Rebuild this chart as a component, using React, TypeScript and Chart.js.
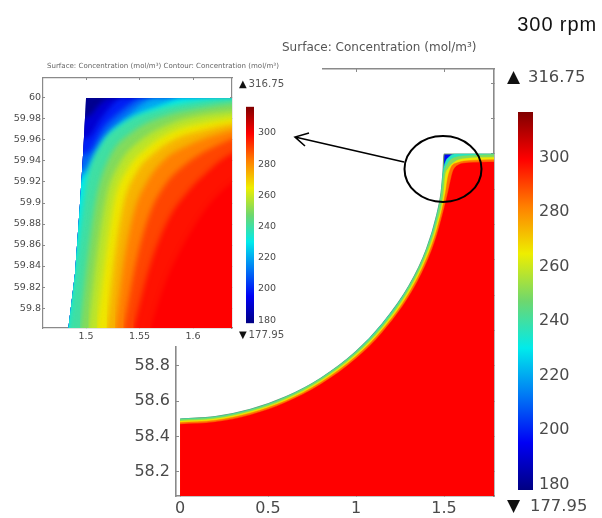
import React, { useEffect, useRef } from "react";
import { Chart, registerables } from "chart.js";

Chart.register(...registerables);

type Pair = number[];

// Colour scale shared by both colour bars and all filled contours
const scaleMin = 177.95;
const scaleMax = 316.75;
const jetValues = [177.95, 195.3, 212.6, 230, 247.3, 264.7, 282, 299.4, 316.75];
const jetColors = [
  [0, 0, 130], [0, 0, 245], [0, 120, 245], [0, 235, 235], [110, 215, 110],
  [238, 238, 0], [255, 128, 0], [255, 0, 0], [128, 0, 0],
];
const barTicks = [180, 200, 220, 240, 260, 280, 300];

// Main plot ticks
const mainXTicks = [0, 0.5, 1, 1.5];
const mainYTicks = [58.2, 58.4, 58.6, 58.8, 59, 59.2, 59.4, 59.6, 59.8, 60, 60.2, 60.4];
const mainXLabels = ["0", "0.5", "1", "1.5"];

// Main plot contours: surface outline and the bands just inside it
const mainLevelValues = [196, 236, 250, 266, 284, 299.4];
const mainOutline: Pair[] = [[0, 58.5], [0.2, 58.513], [0.4, 58.554], [0.6, 58.625], [0.8, 58.731], [1, 58.882], [1.15, 59.04], [1.3, 59.252], [1.4, 59.461], [1.46, 59.66], [1.4835, 59.781], [1.4944, 59.9], [1.5, 60], [1.8, 60]];
const mainCyan: Pair[] = [[0, 58.5], [0.2, 58.513], [0.4, 58.554], [0.6, 58.625], [0.8, 58.731], [1, 58.882], [1.15, 59.04], [1.3, 59.252], [1.4, 59.461], [1.46, 59.66], [1.4835, 59.781], [1.4944, 59.9], [1.51, 59.96], [1.53, 59.985], [1.56, 60], [1.8, 60]];
const mainGreen: Pair[] = [[0, 58.497], [0.2, 58.51], [0.4, 58.551], [0.6, 58.622], [0.8, 58.728], [1, 58.878], [1.15, 59.032], [1.3, 59.246], [1.4, 59.453], [1.46, 59.643], [1.4855, 59.78], [1.4965, 59.88], [1.52, 59.945], [1.56, 59.98], [1.65, 59.992], [1.8, 59.997]];
const mainYellow: Pair[] = [[0, 58.488], [0.2, 58.501], [0.4, 58.542], [0.6, 58.612], [0.8, 58.717], [1, 58.866], [1.15, 59.018], [1.3, 59.228], [1.4, 59.429], [1.46, 59.607], [1.498, 59.78], [1.506, 59.87], [1.525, 59.92], [1.56, 59.955], [1.6, 59.972], [1.8, 59.982]];
const mainOrange: Pair[] = [[0, 58.48], [0.2, 58.493], [0.4, 58.534], [0.6, 58.603], [0.8, 58.708], [1, 58.855], [1.15, 59.006], [1.3, 59.212], [1.4, 59.408], [1.46, 59.577], [1.508, 59.78], [1.52, 59.86], [1.54, 59.925], [1.575, 59.95], [1.65, 59.963], [1.8, 59.968]];
const mainRed: Pair[] = [[0, 58.47], [0.2, 58.483], [0.4, 58.523], [0.6, 58.593], [0.8, 58.696], [1, 58.842], [1.15, 58.991], [1.3, 59.193], [1.4, 59.383], [1.46, 59.543], [1.522, 59.78], [1.534, 59.836], [1.55, 59.9], [1.58, 59.937], [1.64, 59.95], [1.8, 59.955]];

// Inset ticks
const insetXTicks = [1.5, 1.55, 1.6];
const insetYTicks = [59.8, 59.82, 59.84, 59.86, 59.88, 59.9, 59.92, 59.94, 59.96, 59.98, 60];

// Inset contours, lowest level first
const insetValues = [180, 190, 200, 210, 220, 230, 240, 250, 258, 266, 274, 282, 290, 297, 299.4];
const c180: Pair[] = [[1.4835, 59.781], [1.4897, 59.833], [1.4944, 59.9], [1.4975, 59.951], [1.5, 60], [1.67, 60]];
const c190: Pair[] = [[1.4735, 59.78], [1.4797, 59.833], [1.4844, 59.9], [1.4881, 59.96], [1.5037, 59.983], [1.5131, 59.994], [1.5224, 60], [1.67, 60]];
const c200: Pair[] = [[1.4735, 59.78], [1.4797, 59.833], [1.4844, 59.9], [1.4869, 59.941], [1.5031, 59.963], [1.5146, 59.981], [1.5349, 60], [1.67, 60]];
const c210: Pair[] = [[1.4735, 59.78], [1.4797, 59.833], [1.4844, 59.9], [1.4853, 59.919], [1.5022, 59.948], [1.5162, 59.971], [1.5349, 59.989], [1.5536, 60], [1.67, 60]];
const c220: Pair[] = [[1.4735, 59.78], [1.4797, 59.833], [1.4838, 59.894], [1.5012, 59.935], [1.5178, 59.963], [1.5396, 59.984], [1.566, 60], [1.67, 60]];
const c230: Pair[] = [[1.4735, 59.78], [1.4807, 59.84], [1.4875, 59.9], [1.5053, 59.933], [1.5209, 59.962], [1.5442, 59.981], [1.5723, 59.994], [1.591, 60], [1.67, 60]];
const c240: Pair[] = [[1.4837, 59.78], [1.4924, 59.856], [1.5002, 59.919], [1.5131, 59.954], [1.5349, 59.976], [1.566, 59.989], [1.6065, 59.997], [1.64, 60], [1.67, 60.002]];
const c250: Pair[] = [[1.4944, 59.78], [1.5022, 59.852], [1.51, 59.906], [1.5224, 59.944], [1.5442, 59.968], [1.5754, 59.983], [1.6065, 59.99], [1.64, 59.995], [1.67, 59.998]];
const c258: Pair[] = [[1.5022, 59.78], [1.5106, 59.852], [1.5193, 59.906], [1.5318, 59.938], [1.5505, 59.959], [1.5785, 59.975], [1.6065, 59.983], [1.64, 59.987], [1.67, 59.99]];
const c266: Pair[] = [[1.51, 59.78], [1.5187, 59.849], [1.5271, 59.903], [1.5396, 59.933], [1.5567, 59.952], [1.5816, 59.968], [1.6097, 59.976], [1.64, 59.981], [1.67, 59.984]];
const c274: Pair[] = [[1.5193, 59.78], [1.5271, 59.849], [1.5355, 59.9], [1.5474, 59.929], [1.5645, 59.948], [1.5863, 59.962], [1.6128, 59.97], [1.64, 59.976], [1.67, 59.98]];
const c282: Pair[] = [[1.5271, 59.78], [1.5364, 59.849], [1.5458, 59.894], [1.5583, 59.922], [1.5754, 59.943], [1.5941, 59.954], [1.6159, 59.963], [1.64, 59.97], [1.67, 59.975]];
const c290: Pair[] = [[1.5349, 59.78], [1.5474, 59.846], [1.5598, 59.89], [1.5754, 59.919], [1.591, 59.935], [1.6097, 59.948], [1.6252, 59.956], [1.64, 59.962], [1.67, 59.97]];
const c298: Pair[] = [[1.5442, 59.78], [1.5598, 59.84], [1.5769, 59.884], [1.5972, 59.913], [1.6128, 59.929], [1.6252, 59.94], [1.64, 59.949], [1.67, 59.96]];
const c306: Pair[] = [[1.5598, 59.78], [1.5754, 59.827], [1.5972, 59.871], [1.619, 59.903], [1.64, 59.922], [1.67, 59.94]];

const tickColor = "#4a4a4a";
const frameColor = "#8a8a8a";

function colorOf(v: number, alpha = 1): string {
  let i = 0;
  while (i < jetValues.length - 2 && v > jetValues[i + 1]) i++;
  const t = Math.min(1, Math.max(0, (v - jetValues[i]) / (jetValues[i + 1] - jetValues[i])));
  const a = jetColors[i];
  const b = jetColors[i + 1];
  const c = a.map((p, k) => Math.round(p + (b[k] - p) * t));
  return `rgba(${c[0]},${c[1]},${c[2]},${alpha})`;
}

function layers(curves: Pair[][], values: number[], fill: any, outlineColor?: string) {
  return curves
    .map((curve, i) => ({
      type: "scatter" as const,
      data: curve.map(([x, y]) => ({ x, y })),
      showLine: true,
      pointRadius: 0,
      borderWidth: i === 0 && outlineColor ? 1.2 : 0.4,
      borderColor: i === 0 && outlineColor ? outlineColor : colorOf(values[i]),
      backgroundColor: colorOf(values[i]),
      fill,
      cubicInterpolationMode: "monotone",
    }))
    .reverse();
}

function axis(
  min: number,
  max: number,
  ticks: number[],
  size: number,
  fontSize: number,
  showLabels: boolean,
  tickLen: number,
  pad: number,
  position: string,
  labels?: string[],
  borderWidth = 1.2,
) {
  return {
    type: "linear",
    position,
    min,
    max,
    afterBuildTicks: (s: any) => {
      s.ticks = ticks.map((value) => ({ value }));
    },
    afterFit: (s: any) => {
      if (s.isHorizontal()) s.height = size;
      else s.width = size;
    },
    grid: { drawOnChartArea: false, color: frameColor, tickLength: -tickLen, lineWidth: 1 },
    border: { display: true, color: frameColor, width: borderWidth },
    ticks: {
      display: showLabels,
      autoSkip: false,
      maxRotation: 0,
      color: tickColor,
      padding: pad,
      font: { family: "DejaVu Sans", size: fontSize },
      callback: (v: number) => {
        const i = ticks.indexOf(v);
        return labels && i >= 0 ? labels[i] : String(v);
      },
    },
  };
}

function text(ctx: CanvasRenderingContext2D, s: string, x: number, y: number, font: string, color: string, align: CanvasTextAlign = "left") {
  ctx.font = font;
  ctx.fillStyle = color;
  ctx.textAlign = align;
  ctx.textBaseline = "middle";
  ctx.fillText(s, x, y);
}

function colorBar(canvas: HTMLCanvasElement, top: number, bottom: number, left: number, right: number, axisWidth: number, fontSize: number, tickLen: number, pad: number) {
  return new Chart(canvas, {
    type: "bar",
    data: {
      labels: ["c"],
      datasets: [
        {
          data: [[scaleMin, scaleMax]],
          barPercentage: 1,
          categoryPercentage: 1,
          backgroundColor: (c: any) => {
            const y = c.chart.scales.y;
            const { ctx } = c.chart;
            const p0 = y ? y.getPixelForValue(scaleMin) : NaN;
            const p1 = y ? y.getPixelForValue(scaleMax) : NaN;
            if (!Number.isFinite(p0) || !Number.isFinite(p1)) return "#ff0000";
            const g = ctx.createLinearGradient(0, p0, 0, p1);
            jetValues.forEach((v) => g.addColorStop((v - scaleMin) / (scaleMax - scaleMin), colorOf(v)));
            return g;
          },
        },
      ],
    } as any,
    options: {
      animation: false,
      responsive: false,
      layout: { padding: { left, right: 0, top, bottom } },
      plugins: { legend: { display: false }, tooltip: { enabled: false } },
      scales: {
        x: { display: false },
        y: {
          ...axis(scaleMin, scaleMax, barTicks, axisWidth, fontSize, true, tickLen, pad, "right"),
          border: { display: false },
        },
      },
    } as any,
  });
}

const mainFurniture = {
  id: "mainFurniture",
  afterDraw(chart: any) {
    const { ctx } = chart;
    ctx.save();
    ctx.fillStyle = "#ffffff";
    ctx.fillRect(0, 0, 322, 346);
    text(ctx, "Surface: Concentration (mol/m³)", 282, 48, "12px 'DejaVu Sans'", "#555555");
    text(ctx, "▲", 507, 78, "17px 'DejaVu Sans'", "#111111");
    text(ctx, "316.75", 528, 78, "16.4px 'DejaVu Sans'", tickColor);
    text(ctx, "▼", 507, 507, "17px 'DejaVu Sans'", "#111111");
    text(ctx, "177.95", 530, 507, "16.4px 'DejaVu Sans'", tickColor);
    ctx.restore();
  },
};

const insetFurniture = {
  id: "insetFurniture",
  // Soft transitions between contour bands, held inside the surface outline
  beforeDatasetsDraw(chart: any) {
    const { ctx, scales, chartArea } = chart;
    ctx.save();
    ctx.beginPath();
    c180.forEach(([x, y], i) => {
      const px = scales.x.getPixelForValue(x);
      const py = scales.y.getPixelForValue(y);
      if (i === 0) ctx.moveTo(px, py);
      else ctx.lineTo(px, py);
    });
    ctx.lineTo(chartArea.right + 20, chartArea.bottom);
    ctx.closePath();
    ctx.clip();
    ctx.fillStyle = colorOf(180);
    ctx.fillRect(chartArea.left, chartArea.top, chartArea.width, chartArea.height);
    ctx.filter = "blur(2.5px)";
  },
  afterDatasetsDraw(chart: any) {
    chart.ctx.restore();
  },
  afterDraw(chart: any) {
    const { ctx } = chart;
    ctx.save();
    text(ctx, "Surface: Concentration (mol/m³) Contour: Concentration (mol/m³)", 47, 6, "7.05px 'DejaVu Sans'", "#666666");
    text(ctx, "▲", 239, 24, "10px 'DejaVu Sans'", "#111111");
    text(ctx, "316.75", 248.5, 24, "10.2px 'DejaVu Sans'", "#555555");
    text(ctx, "▼", 239, 275, "10px 'DejaVu Sans'", "#111111");
    text(ctx, "177.95", 248.5, 275, "10.2px 'DejaVu Sans'", "#555555");
    ctx.restore();
  },
};

const overlayFurniture = {
  id: "overlayFurniture",
  afterDraw(chart: any) {
    const { ctx } = chart;
    ctx.save();
    (ctx as any).letterSpacing = "0.9px";
    text(ctx, "300 rpm", 597, 25, "20px 'Liberation Sans'", "#111111", "right");
    (ctx as any).letterSpacing = "0px";
    ctx.strokeStyle = "#000000";
    ctx.lineWidth = 2;
    ctx.beginPath();
    ctx.ellipse(443, 169, 38.5, 33, 0, 0, Math.PI * 2);
    ctx.stroke();
    ctx.lineWidth = 1.6;
    ctx.beginPath();
    ctx.moveTo(404, 162);
    ctx.lineTo(295, 137);
    ctx.moveTo(309, 133);
    ctx.lineTo(295, 137);
    ctx.lineTo(305, 146);
    ctx.stroke();
    ctx.restore();
  },
};

export default function App() {
  const mainRef = useRef<HTMLCanvasElement>(null);
  const barRef = useRef<HTMLCanvasElement>(null);
  const insetRef = useRef<HTMLCanvasElement>(null);
  const insetBarRef = useRef<HTMLCanvasElement>(null);
  const overlayRef = useRef<HTMLCanvasElement>(null);

  useEffect(() => {
    const xMin = -0.023;
    const xMax = 1.784;
    const yMin = 58.064;
    const yMax = 60.481;
    const main = new Chart(mainRef.current!, {
      type: "scatter",
      data: {
        datasets: layers([mainOutline, mainCyan, mainGreen, mainYellow, mainOrange, mainRed], mainLevelValues, "start", "#6f9a6a"),
      } as any,
      options: {
        animation: false,
        responsive: false,
        layout: { padding: { left: 126, right: 108, top: 69, bottom: 0 } },
        plugins: { legend: { display: false }, tooltip: { enabled: false } },
        scales: {
          x: axis(xMin, xMax, mainXTicks, 22, 16, true, 3, 6, "bottom", mainXLabels, 1.6),
          y: axis(yMin, yMax, mainYTicks, 50, 16, true, 3, 9, "left", undefined, 1.6),
          x2: axis(xMin, xMax, mainXTicks, 0, 16, false, 3, 0, "top", undefined, 1.6),
          y2: axis(yMin, yMax, mainYTicks, 0, 16, false, 3, 0, "right", undefined, 1.6),
        },
      } as any,
      plugins: [mainFurniture],
    });

    const bar = colorBar(barRef.current!, 22, 20, 18, 0, 69, 16, 3, 9);

    const inXMin = 1.4598;
    const inXMax = 1.6364;
    const inYMin = 59.781;
    const inYMax = 60.019;
    const inset = new Chart(insetRef.current!, {
      type: "scatter",
      data: {
        datasets: layers(
          [c180, c190, c200, c210, c220, c230, c240, c250, c258, c266, c274, c282, c290, c298, c306],
          insetValues,
          { value: 59.7 },
        ),
      } as any,
      options: {
        animation: false,
        responsive: false,
        layout: { padding: { left: 3, right: 68, top: 18, bottom: 0 } },
        plugins: { legend: { display: false }, tooltip: { enabled: false } },
        scales: {
          x: axis(inXMin, inXMax, insetXTicks, 22, 9.5, true, 2, 5, "bottom"),
          y: axis(inYMin, inYMax, insetYTicks, 40, 9.5, true, 2, 4, "left"),
          x2: axis(inXMin, inXMax, insetXTicks, 0, 9.5, false, 2, 0, "top"),
          y2: axis(inYMin, inYMax, insetYTicks, 0, 9.5, false, 2, 0, "right"),
        },
      } as any,
      plugins: [insetFurniture],
    });

    const insetBar = colorBar(insetBarRef.current!, 8, 10, 10, 0, 42, 9.5, 2, 6);

    const overlay = new Chart(overlayRef.current!, {
      type: "scatter",
      data: { datasets: [] },
      options: {
        animation: false,
        responsive: false,
        plugins: { legend: { display: false }, tooltip: { enabled: false } },
        scales: { x: { display: false }, y: { display: false } },
      } as any,
      plugins: [overlayFurniture],
    });

    return () => {
      main.destroy();
      bar.destroy();
      inset.destroy();
      insetBar.destroy();
      overlay.destroy();
    };
  }, []);

  const blur = "blur(0.6px)";
  const base: React.CSSProperties = { position: "absolute", display: "block" };
  return (
    <div style={{ position: "absolute", left: 0, top: 0, width: 602, height: 518, background: "#fff", overflow: "hidden" }}>
      <canvas ref={mainRef} width={602} height={518} style={{ ...base, left: 0, top: 0, width: 602, height: 518, filter: blur }} />
      <canvas ref={barRef} width={102} height={420} style={{ ...base, left: 500, top: 90, width: 102, height: 420, filter: blur }} />
      <canvas ref={insetRef} width={300} height={290} style={{ ...base, left: 0, top: 60, width: 300, height: 290, filter: blur }} />
      <canvas ref={insetBarRef} width={60} height={240} style={{ ...base, left: 236, top: 95, width: 60, height: 240, filter: blur }} />
      <canvas ref={overlayRef} width={602} height={518} style={{ ...base, left: 0, top: 0, width: 602, height: 518 }} />
    </div>
  );
}
